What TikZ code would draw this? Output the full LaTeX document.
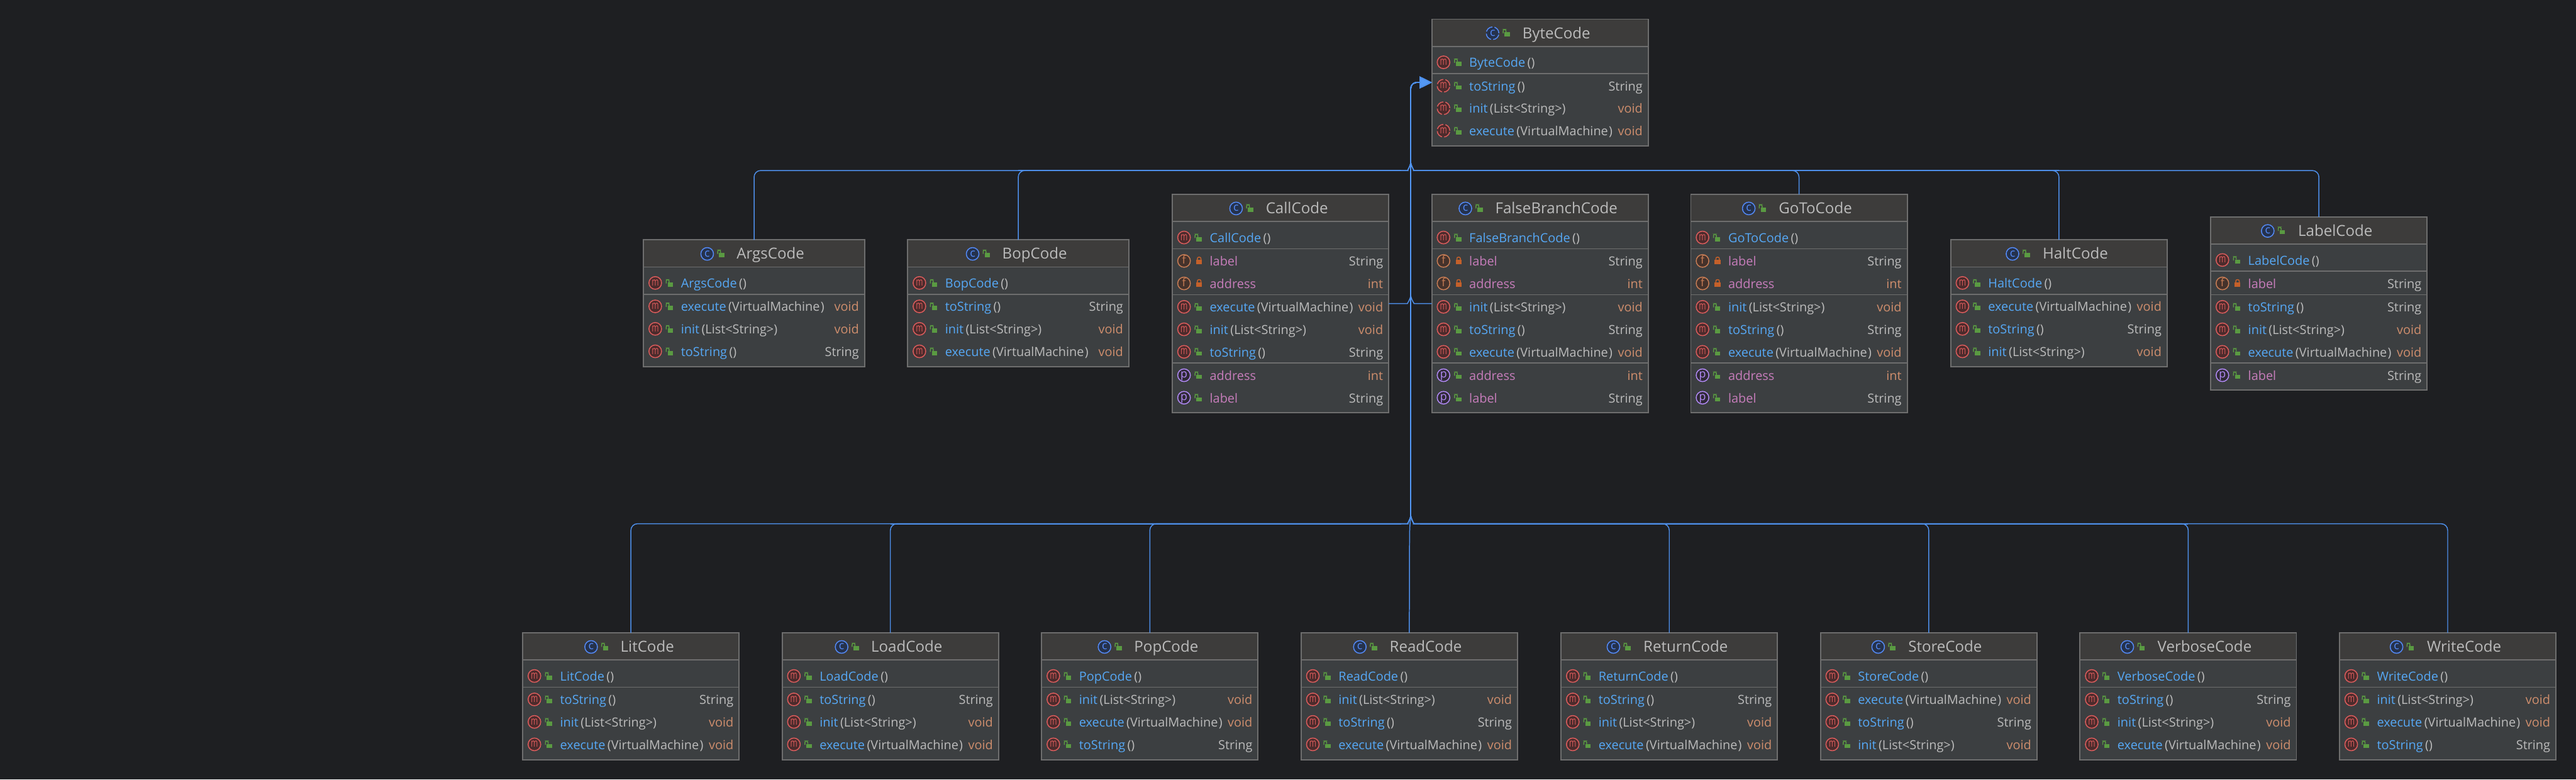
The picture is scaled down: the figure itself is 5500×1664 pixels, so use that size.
\documentclass[tikz,border=0pt]{standalone}
\usepackage{graphicx}
\usepackage{fontspec}
\setmainfont{Open Sans}
\usetikzlibrary{calc,arrows.meta}
\definecolor{bgc}{HTML}{1E1F22}
\definecolor{bodyc}{HTML}{3C3F41}
\definecolor{hdrc}{HTML}{3D3C3B}
\definecolor{edgec}{HTML}{6E6E6E}
\definecolor{txtc}{HTML}{BBBBBB}
\definecolor{namec}{HTML}{56A8F5}
\definecolor{fieldc}{HTML}{C77DBB}
\definecolor{kwc}{HTML}{CF8E6D}
\definecolor{linec}{HTML}{4E8FEA}
\definecolor{trunkc}{HTML}{5398F5}
\definecolor{pubc}{HTML}{5A9A42}
\definecolor{privc}{HTML}{C4602A}
\definecolor{mS}{HTML}{DB5C5C}\definecolor{mF}{HTML}{4C2B2C}
\definecolor{fS}{HTML}{C77D55}\definecolor{fF}{HTML}{45322B}
\definecolor{pS}{HTML}{B189F5}\definecolor{pF}{HTML}{2F2936}
\definecolor{cS}{HTML}{548AF7}\definecolor{cF}{HTML}{25324D}
\newcommand\rowfont{\fontsize{7.6pt}{8pt}\selectfont}
\newcommand\titfont{\fontsize{9.2pt}{10pt}\selectfont}
\newcommand\icofont{\fontsize{6.8pt}{8pt}\selectfont}
\newcommand\mLetter{\scalebox{.68}[1]{m}}
\newcounter{rc}
\tikzset{
  umlbox/.style={draw=edgec,fill=bodyc,line width=.025cm,inner sep=0,outer sep=0,anchor=north west},
  sepline/.style={draw=edgec,line width=.025cm},
  ring/.style={circle,inner sep=0,outer sep=0,minimum size=.27cm,line width=.02cm},
  rowtxt/.style={inner sep=0,outer sep=0,font=\rowfont},
  icotxt/.style={inner sep=0,outer sep=0,anchor=base,font=\icofont},
  conn/.style={draw=linec,line width=.02cm,-{Triangle[length=.26cm,width=.25cm,fill=trunkc]}},
  trunkline/.style={draw=trunkc,line width=.034cm},
  railline/.style={draw=linec,line width=.028cm},
  dashring/.style={dash pattern=on .17cm off .045cm},
}
\newcommand\PubLock[2]{%
  \fill[pubc] ({#1-4.5},{#2-1}) rectangle ({#1+7},{#2+8});
  \draw[pubc,line width=.02cm,rounded corners=.03cm] ({#1-7.5},{#2+1}) -- ({#1-7.5},{#2-7}) -- ({#1-1.5},{#2-7}) -- ({#1-1.5},{#2-1});
}
\newcommand\PrivLock[2]{%
  \fill[privc] ({#1-5},{#2-2}) rectangle ({#1+7.5},{#2+7});
  \draw[privc,line width=.02cm,rounded corners=.03cm] ({#1-2.5},{#2-2}) -- ({#1-2.5},{#2-8}) -- ({#1+5},{#2-8}) -- ({#1+5},{#2-2});
}
% #1 name, #2 left, #3 top, #4 width, #5 height, #6 ring style of the class icon
\newcommand\ClassBox[6]{%
  \xdef\bx{#2}\xdef\bw{#4}%
  \node[umlbox,minimum width=#4*.01cm,minimum height=#5*.01cm] (#1) at (#2,#3) {};
  \fill[hdrc] ({#2+1.3},{#3+1.3}) rectangle ({#2+#4-1.3},{#3+58});
  \draw[sepline] (#2,{#3+58}) -- ({#2+#4},{#3+58});
  \pgfmathsetmacro\tc{#2+#4/2+35}%
  \stepcounter{rc}%
  \node[inner sep=0,outer sep=0,anchor=base,font=\titfont,text=txtc] (t\arabic{rc}) at (\tc,{#3+41}) {#1};
  \path (t\arabic{rc}.west); \pgfgetlastxy{\tXpt}{\tYpt}%
  \pgfmathsetmacro\ic{\tXpt/0.28453-62}%
  \node[ring,draw=cS,fill=cF,#6] (i\arabic{rc}) at (\ic,{#3+30}) {};
  \node[icotxt,text=cS] (l\arabic{rc}) at (\ic,{#3+36}) {c};
  \PubLock{\ic+30}{#3+29}
  \RowBase{\mLetter}{mS}{mF}{}{pub}{namec}{#1}{()}{}{#3+92}
  \draw[sepline] (#2,{#3+116}) -- ({#2+#4},{#3+116});
  \pgfmathsetmacro\tmpy{#3+142}\xdef\cy{\tmpy}%
}
% #1 letter #2 stroke #3 fill #4 ring style #5 lock #6 name colour #7 name #8 params #9 type, then y
\newcommand\RowBase[9]{\def\rA{#1}\def\rB{#2}\def\rC{#3}\def\rD{#4}\def\rE{#5}\def\rF{#6}\def\rG{#7}\def\rH{#8}\def\rI{#9}\RowBaseC}
\newcommand\RowBaseC[1]{%
  \stepcounter{rc}%
  \pgfmathsetmacro\ry{#1}%
  \expandafter\RingDraw\expandafter{\rD}%
  \node[icotxt,text=\rB] (l\arabic{rc}) at ({\bx+25},{\ry+6}) {\rA};
  \ifnum\pdfstrcmp{\rE}{pub}=0 \PubLock{\bx+56}{\ry}\else \PrivLock{\bx+56}{\ry}\fi
  \node[rowtxt,anchor=base west,text=txtc] (n\arabic{rc}) at ({\bx+80},{\ry+10.5}) {\textcolor{\rF}{\rG}\ifx\rH\empty\else\kern1.3pt\rH\fi};
  \ifx\rI\empty\else
  \node[rowtxt,anchor=base east,text=txtc] (y\arabic{rc}) at ({\bx+\bw-12},{\ry+10.5}) {\rI};
  \fi
}
\newcommand\RingDraw[1]{\node[ring,draw=\rB,fill=\rC,#1] (i\arabic{rc}) at ({\bx+25},\ry) {};}
\newcommand\Advance{\pgfmathsetmacro\tmpy{\cy+48}\xdef\cy{\tmpy}}
\newcommand\RM[3]{\RowBase{\mLetter}{mS}{mF}{}{pub}{namec}{#1}{#2}{#3}{\cy}\Advance}
\newcommand\RA[3]{\RowBase{\mLetter}{mS}{mF}{dashring}{pub}{namec}{#1}{#2}{#3}{\cy}\Advance}
\newcommand\RF[2]{\RowBase{f}{fS}{fF}{}{priv}{fieldc}{#1}{}{#2}{\cy}\Advance}
\newcommand\RP[2]{\RowBase{p}{pS}{pF}{}{pub}{fieldc}{#1}{}{#2}{\cy}\Advance}
\newcommand\NextSec{%
  \draw[sepline] (\bx,{\cy-24}) -- ({\bx+\bw},{\cy-24});
  \pgfmathsetmacro\tmpy{\cy+2}\xdef\cy{\tmpy}%
}
\newcommand\tS{String}
\newcommand\tV{\textcolor{kwc}{void}}
\newcommand\tI{\textcolor{kwc}{int}}
\newcommand\pE{(VirtualMachine\kern.5pt)}
\newcommand\pI{(List<String>)}
\newcommand\pT{()}
\newcommand\DoT{\RM{toString}{\pT}{\tS}}
\newcommand\DoI{\RM{init}{\pI}{\tV}}
\newcommand\DoE{\RM{execute}{\pE}{\tV}}
% connector from a box's north end along the rail #2 on side #3, up the trunk to ByteCode
\newcommand\ConnUp[3]{%
  \draw[conn,rounded corners=.14cm] (#1.north) |- ({3012+#3*20},#2) [sharp corners] .. controls ({3012+#3*8},#2) and ({3012+#3*2},{#2-6}) .. (3012,{#2-17}) [rounded corners=.13cm] |- (target);
}
\begin{document}
\begin{tikzpicture}[x=.01cm,y=-.01cm]
\fill[bgc] (0,0) rectangle (5500,1664);
\useasboundingbox (0,0) rectangle (5500,1664);

\ClassBox{ByteCode}{3057}{41}{462}{270}{dashring}
\RA{toString}{\pT}{\tS}\RA{init}{\pI}{\tV}\RA{execute}{\pE}{\tV}

\ClassBox{ArgsCode}{1374}{512}{472}{271}{}
\DoE\DoI\DoT
\ClassBox{BopCode}{1938}{512}{472}{271}{}
\DoT\DoI\DoE
\ClassBox{CallCode}{2503}{415}{462}{466}{}
\RF{label}{\tS}\RF{address}{\tI}\NextSec\DoE\DoI\DoT\NextSec\RP{address}{\tI}\RP{label}{\tS}
\ClassBox{FalseBranchCode}{3057}{415}{462}{466}{}
\RF{label}{\tS}\RF{address}{\tI}\NextSec\DoI\DoT\DoE\NextSec\RP{address}{\tI}\RP{label}{\tS}
\ClassBox{GoToCode}{3610}{415}{462}{466}{}
\RF{label}{\tS}\RF{address}{\tI}\NextSec\DoI\DoT\DoE\NextSec\RP{address}{\tI}\RP{label}{\tS}
\ClassBox{HaltCode}{4165}{512}{462}{271}{}
\DoE\DoT\DoI
\ClassBox{LabelCode}{4720}{463}{462}{370}{}
\RF{label}{\tS}\NextSec\DoT\DoI\DoE\NextSec\RP{label}{\tS}

\ClassBox{LitCode}{1116}{1351}{462}{271}{}
\DoT\DoI\DoE
\ClassBox{LoadCode}{1670}{1351}{462}{271}{}
\DoT\DoI\DoE
\ClassBox{PopCode}{2224}{1351}{462}{271}{}
\DoI\DoE\DoT
\ClassBox{ReadCode}{2778}{1351}{462}{271}{}
\DoI\DoT\DoE
\ClassBox{ReturnCode}{3333}{1351}{462}{271}{}
\DoT\DoI\DoE
\ClassBox{StoreCode}{3887}{1351}{462}{271}{}
\DoE\DoT\DoI
\ClassBox{VerboseCode}{4441}{1351}{462}{271}{}
\DoT\DoI\DoE
\ClassBox{WriteCode}{4995}{1351}{462}{271}{}
\DoI\DoE\DoT

\coordinate (target) at ($(ByteCode.north west)+(0,135)$);
\coordinate (callport) at ($(CallCode.north east)+(0,233)$);
\coordinate (falseport) at ($(FalseBranchCode.north west)+(0,233)$);

\ConnUp{ArgsCode}{364}{-1}
\ConnUp{BopCode}{364}{-1}
\ConnUp{GoToCode}{364}{1}
\ConnUp{HaltCode}{364}{1}
\ConnUp{LabelCode}{364}{1}
\ConnUp{LitCode}{1118}{-1}
\ConnUp{LoadCode}{1118}{-1}
\ConnUp{PopCode}{1118}{-1}
\ConnUp{ReturnCode}{1118}{1}
\ConnUp{StoreCode}{1118}{1}
\ConnUp{VerboseCode}{1118}{1}
\ConnUp{WriteCode}{1118}{1}
\draw[conn,rounded corners=.13cm] (ReadCode.north) -- (3009.5,1140) [sharp corners] .. controls (3010,1125) and (3011,1112) .. (3012,1101) [rounded corners=.13cm] |- (target);
\draw[conn,rounded corners=.13cm] (callport) -- (2992,648) [sharp corners] .. controls (3004,648) and (3010,642) .. (3012,631) [rounded corners=.13cm] |- (target);
\draw[conn,rounded corners=.13cm] (falseport) -- (3032,648) [sharp corners] .. controls (3020,648) and (3014,642) .. (3012,631) [rounded corners=.13cm] |- (target);
% merged stretches of the shared routes
\draw[railline] (BopCode.north |- 0,364) -- (2992,364);
\draw[railline] (3032,364) -- (HaltCode.north |- 0,364);
\draw[railline] (LoadCode.north |- 0,1118) -- (2992,1118);
\draw[railline] (3032,1118) -- (VerboseCode.north |- 0,1118);
\draw[trunkline] (3012,1102) -- (3012,190);
\end{tikzpicture}
\end{document}
